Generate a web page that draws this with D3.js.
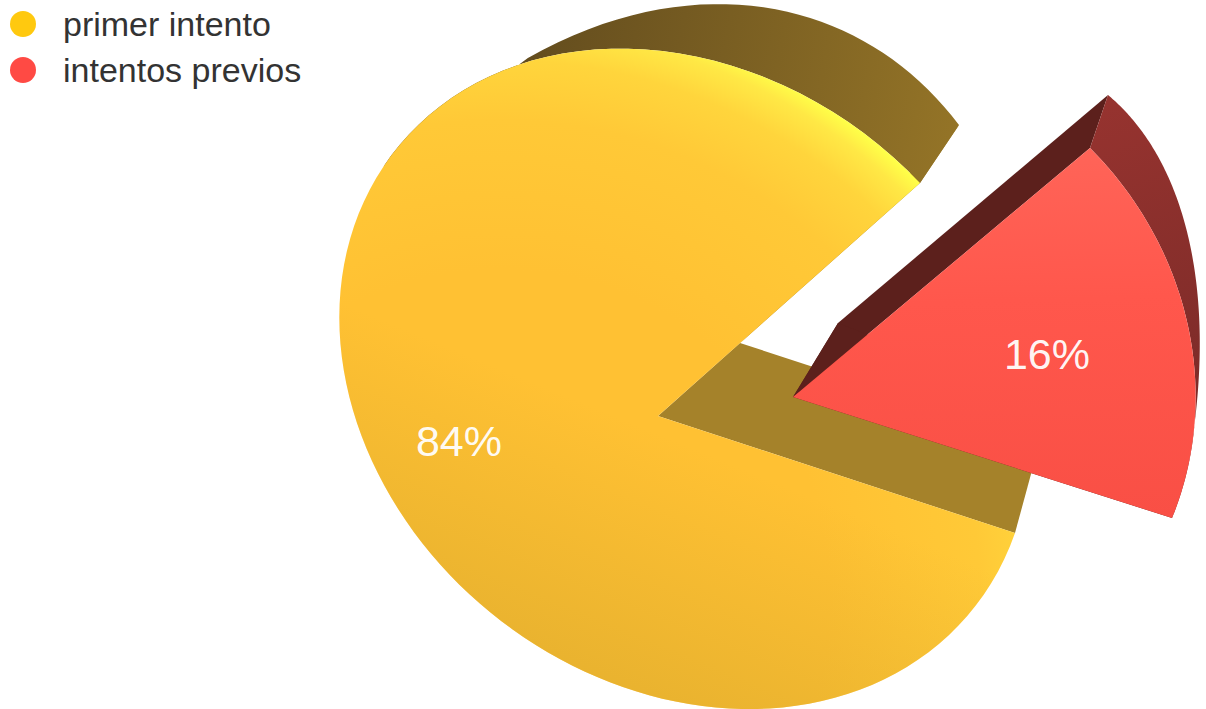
<!DOCTYPE html>
<html lang="es">
<head>
<meta charset="utf-8">
<title>Intentos</title>
<script src="https://cdn.jsdelivr.net/npm/d3@7/dist/d3.min.js"></script>
<style>
  html, body { margin: 0; padding: 0; background: #fff; }
  svg { display: block; font-family: "Liberation Sans", Arial, sans-serif; }
</style>
</head>
<body>
<svg id="chart" width="1206" height="709"></svg>
<script>
// Share of attempts
const categories = ["primer intento", "intentos previos"];
const shares = [84, 16];
const legendColors = ["#ffc90f", "#ff4a44"];

const deg = Math.PI / 180;
const redSweep = shares[1] / d3.sum(shares) * 360;
const firstAngle = (90 + redSweep / 2) * deg;

// Each slice sits in its own perspective frame: where its centre, two rim ends
// and the rim point at mid-sweep land on the page, for the lit face and the far face.
const frames = [
  {
    trimWall: true,
    front: { center: [658, 416], start: [1015, 533], end: [920, 183], extra: [372, 461] },
    back:  { center: [740, 343], start: [1040, 441], end: [959, 125], extra: [227, 495] }
  },
  {
    trimWall: false,
    front: { center: [793, 397], start: [1090, 148], end: [1172, 518], extra: [1188, 326] },
    back:  { center: [838, 323], start: [1108, 95], end: [1189, 460], extra: [1183, 217] }
  }
];

const disk = (a, r = 1) => [r * Math.sin(a), -r * Math.cos(a)];

// Solves the 3x3 planar homography carrying four disk points onto four page points.
function homography(src, dst) {
  const A = [];
  src.forEach(([x, y], i) => {
    const [u, v] = dst[i];
    A.push([x, y, 1, 0, 0, 0, -u * x, -u * y, u]);
    A.push([0, 0, 0, x, y, 1, -v * x, -v * y, v]);
  });
  for (let c = 0; c < 8; c++) {
    let p = c;
    for (let r = c + 1; r < 8; r++) if (Math.abs(A[r][c]) > Math.abs(A[p][c])) p = r;
    [A[c], A[p]] = [A[p], A[c]];
    for (let r = 0; r < 8; r++) {
      if (r === c) continue;
      const f = A[r][c] / A[c][c];
      for (let k = c; k < 9; k++) A[r][k] -= f * A[c][k];
    }
  }
  const h = A.map((row, i) => row[8] / row[i]);
  return ([x, y]) => {
    const w = h[6] * x + h[7] * y + 1;
    return [(h[0] * x + h[1] * y + h[2]) / w, (h[3] * x + h[4] * y + h[5]) / w];
  };
}

const pie = d3.pie().sort(null).startAngle(firstAngle).endAngle(firstAngle + 2 * Math.PI);
const slices = pie(shares);

const projectors = slices.map((d, i) => {
  const f = frames[i];
  const src = [[0, 0], disk(d.startAngle), disk(d.endAngle), disk((d.startAngle + d.endAngle) / 2)];
  const make = face => homography(src, [face.center, face.start, face.end, face.extra]);
  return { front: make(f.front), back: make(f.back) };
});

const svg = d3.select("#chart");
const defs = svg.append("defs");
const addStops = (g, stops) => stops.forEach(([o, c, a]) =>
  g.append("stop").attr("offset", o).attr("stop-color", c).attr("stop-opacity", a ?? 1));
const lin = (id, x1, y1, x2, y2, stops) => addStops(
  defs.append("linearGradient").attr("id", id).attr("gradientUnits", "userSpaceOnUse")
    .attr("x1", x1).attr("y1", y1).attr("x2", x2).attr("y2", y2), stops);

// The yellow face brightens toward its upper right rim
addStops(defs.append("radialGradient").attr("id", "yellowFace").attr("gradientUnits", "userSpaceOnUse")
  .attr("cx", 500).attr("cy", 600).attr("r", 600),
  [[0.55, "#ffc133"], [0.8, "#ffc937"], [0.9, "#ffd53c"], [0.955, "#ffe845"], [0.985, "#ffff48"]]);
lin("yellowShade", 650, 430, 530, 720, [[0, "#d9a82c", 0], [1, "#d9a82c", 0.72]]);
lin("yellowRim", 530, 50, 960, 130, [[0, "#644d1e"], [1, "#947427"]]);
lin("redFace", 1100, 150, 1110, 520, [[0, "#ff6458"], [0.4, "#ff574c"], [1, "#f94f45"]]);
lin("redRim", 1110, 100, 1197, 370, [[0, "#96332f"], [1, "#7f2c29"]]);

const line = d3.line();
const rim = (project, a0, a1) => d3.range(0, 121).map(i => project(disk(a0 + (a1 - a0) * i / 120)));

const faceFill = ["url(#yellowFace)", "url(#redFace)"];
const rimFill = ["url(#yellowRim)", "url(#redRim)"];
const flatFill = ["#a5822a", "#5c201c"];

// The far rim only shows from the slice's end back to where it slips behind the face:
// the sample in the later half of the sweep that comes closest to the near rim.
function wallStart(farRim, nearRim) {
  const gap = p => d3.min(nearRim, q => Math.hypot(p[0] - q[0], p[1] - q[1]));
  return d3.least(d3.range(60, 121), k => gap(farRim[k]));
}

slices.forEach((d, i) => {
  const { front, back } = projectors[i];
  const frontRim = rim(front, d.startAngle, d.endAngle);
  const backRim = rim(back, d.startAngle, d.endAngle);
  const g = svg.append("g");

  // Flat cut walls first, then the curved outer wall, then the face on top.
  const c0 = front([0, 0]), c1 = back([0, 0]);
  [[frontRim[0], backRim[0]], [frontRim[120], backRim[120]]].forEach(([a, b]) => {
    g.append("path").attr("d", line([c0, c1, b, a]) + "Z").attr("fill", flatFill[i]);
  });
  const from = frames[i].trimWall ? wallStart(backRim, frontRim) : 0;
  g.append("path")
    .attr("d", line([...frontRim.slice(from), ...backRim.slice(from).reverse()]) + "Z")
    .attr("fill", rimFill[i]);
  const outline = line([c0, ...frontRim]) + "Z";
  g.append("path").attr("d", outline).attr("fill", faceFill[i]);
  if (i === 0) g.append("path").attr("d", outline).attr("fill", "url(#yellowShade)");
});

// Percentage labels on the faces
const labelSpots = [[459, 441], [1047, 354]];
svg.selectAll("text.value").data(shares).join("text").attr("class", "value")
  .attr("x", (d, i) => labelSpots[i][0]).attr("y", (d, i) => labelSpots[i][1])
  .attr("text-anchor", "middle").attr("dominant-baseline", "central")
  .attr("font-size", 43).attr("fill", "#fff").attr("fill-opacity", 0.95)
  .text(d => d + "%");

// Legend
const legend = svg.selectAll("g.key").data(categories).join("g").attr("class", "key")
  .attr("transform", (d, i) => `translate(23,${24 + i * 46})`);
legend.append("circle").attr("r", 13).attr("fill", (d, i) => legendColors[i]);
legend.append("text").attr("x", 40).attr("y", 0).attr("dominant-baseline", "central")
  .attr("font-size", 34).attr("fill", "#333").text(d => d);
</script>
</body>
</html>
